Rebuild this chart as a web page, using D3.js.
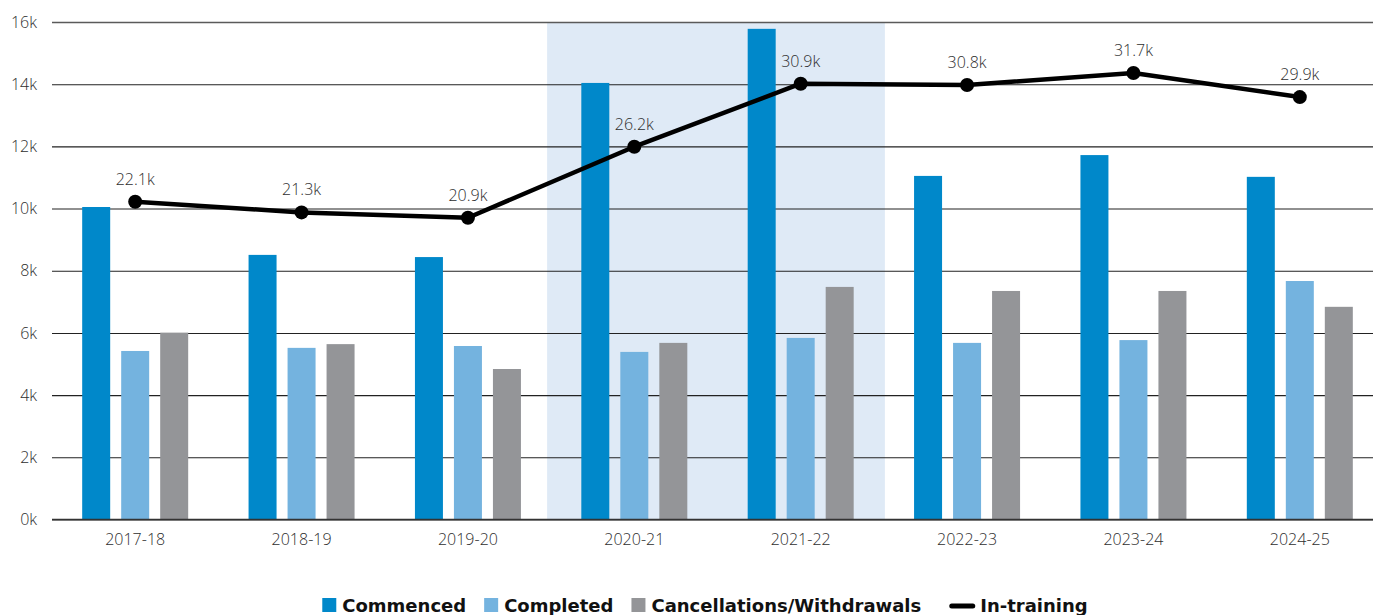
<!DOCTYPE html>
<html>
<head>
<meta charset="utf-8">
<script src="https://cdn.jsdelivr.net/npm/d3@7"></script>
<style>
  html, body { margin: 0; padding: 0; background: #fff; }
  svg { display: block; }
</style>
</head>
<body>
<svg id="chart" width="1373" height="615"></svg>
<script>
// Financial years shown along the x axis
const years = ["2017-18", "2018-19", "2019-20", "2020-21", "2021-22", "2022-23", "2023-24", "2024-25"];

// Bar series, in thousands
const commenced     = [10.05, 8.51, 8.44, 14.04, 15.78, 11.05, 11.72, 11.02];
const completed     = [5.42, 5.52, 5.58, 5.39, 5.84, 5.68, 5.77, 7.67];
const cancellations = [6.01, 5.64, 4.84, 5.68, 7.48, 7.35, 7.35, 6.84];

// Line series (in-training), in thousands, drawn against its own hidden scale
const inTraining = [22.1, 21.3, 20.9, 26.2, 30.9, 30.8, 31.7, 29.9];

// Left axis ticks, in thousands
const yTicks = [0, 2, 4, 6, 8, 10, 12, 14, 16];

// Years highlighted with a shaded background
const highlighted = ["2020-21", "2021-22"];

const seriesNames = ["Commenced", "Completed", "Cancellations/Withdrawals"];
const seriesValues = [commenced, completed, cancellations];
const colors = ["#0088ca", "#74b3df", "#949598"];

const svg = d3.select("#chart");
const plotLeft = 52, plotTop = 22, plotBottom = 519.5, bandEnd = 1383, gridEnd = 1373;

const x = d3.scaleBand().domain(years).range([plotLeft, bandEnd]).padding(0);
const inner = d3.scaleBand().domain(seriesNames).range([0, 106]).paddingInner(11 / 39);
const y = d3.scaleLinear().domain([0, 16]).range([plotBottom, plotTop]);
const yLine = d3.scaleLinear().domain([-1.6, 35.5]).range([plotBottom, plotTop]);

const cx = d => x(d) + x.bandwidth() / 2;
const textFont = "'Open Sans', sans-serif";
const textWeight = 300;
const textColor = "#2e2e2e";

// Shaded highlight band
const h0 = x(highlighted[0]) - 4;
const h1 = x(highlighted[highlighted.length - 1]) + x.bandwidth() + 1;
svg.append("rect")
  .attr("x", h0).attr("y", y(16))
  .attr("width", h1 - h0).attr("height", y(0) - y(16))
  .attr("fill", "#dfeaf6");

// Gridlines and left axis labels
const yAxis = d3.axisLeft(y).tickValues(yTicks).tickSize(0).tickPadding(15)
  .tickFormat(d => `${d}k`);
const gy = svg.append("g").attr("transform", `translate(${plotLeft},0)`).call(yAxis);
gy.select(".domain").remove();
gy.selectAll("text")
  .attr("font-family", textFont).attr("font-weight", textWeight)
  .attr("font-size", 16).attr("fill", textColor);
gy.selectAll(".tick").append("line")
  .attr("x1", 0).attr("x2", gridEnd - plotLeft)
  .attr("stroke", d => d === 16 ? "#5a5a5a" : "#222")
  .attr("stroke-width", d => d === 16 ? 1.6 : 1.1);

// Grouped bars
const groups = svg.append("g").selectAll("g")
  .data(years).join("g")
  .attr("transform", d => `translate(${cx(d) - 53},0)`);

groups.selectAll("rect")
  .data((d, i) => seriesNames.map((s, k) => ({ s, k, v: seriesValues[k][i] })))
  .join("rect")
  .attr("x", d => inner(d.s))
  .attr("y", d => y(d.v))
  .attr("width", inner.bandwidth())
  .attr("height", d => y(0) - y(d.v))
  .attr("fill", d => colors[d.k]);

// Baseline drawn over the bars
svg.append("line")
  .attr("x1", plotLeft).attr("x2", gridEnd)
  .attr("y1", y(0)).attr("y2", y(0))
  .attr("stroke", "#333").attr("stroke-width", 1.4);

// X axis labels
const xAxis = d3.axisBottom(x).tickSize(0).tickPadding(14);
const gx = svg.append("g").attr("transform", `translate(0,${y(0)})`).call(xAxis);
gx.select(".domain").remove();
gx.selectAll("text")
  .attr("font-family", textFont).attr("font-weight", textWeight)
  .attr("font-size", 16).attr("fill", textColor);

// In-training line with markers and value labels
const line = d3.line().x((d, i) => cx(years[i])).y(d => yLine(d));
svg.append("path")
  .datum(inTraining)
  .attr("d", line)
  .attr("fill", "none")
  .attr("stroke", "#000")
  .attr("stroke-width", 4.5)
  .attr("stroke-linejoin", "round");

svg.append("g").selectAll("circle")
  .data(inTraining).join("circle")
  .attr("cx", (d, i) => cx(years[i]))
  .attr("cy", d => yLine(d))
  .attr("r", 7)
  .attr("fill", "#000");

svg.append("g").selectAll("text")
  .data(inTraining).join("text")
  .attr("x", (d, i) => cx(years[i]))
  .attr("y", d => yLine(d) - 17)
  .attr("text-anchor", "middle")
  .attr("font-family", textFont).attr("font-weight", textWeight)
  .attr("font-size", 16).attr("fill", textColor)
  .text(d => `${d3.format(".1f")(d)}k`);

// Legend
const legendItems = seriesNames.map((s, k) => ({ name: s, color: colors[k], type: "box" }))
  .concat([{ name: "In-training", color: "#000", type: "line" }]);
const legend = svg.append("g").attr("transform", "translate(0,612)");
const legendFont = "'DejaVu Sans', sans-serif";
let lx = 0;
legendItems.forEach((it, i) => {
  const g = legend.append("g");
  if (i > 0) lx += it.type === "line" ? 28 : 18;
  if (it.type === "box") {
    g.append("rect").attr("x", lx).attr("y", -14).attr("width", 14).attr("height", 14).attr("fill", it.color);
    lx += 20;
  } else {
    g.append("line").attr("x1", lx + 2.5).attr("x2", lx + 23.5).attr("y1", -6).attr("y2", -6)
      .attr("stroke", it.color).attr("stroke-width", 5).attr("stroke-linecap", "round");
    lx += 31;
  }
  const t = g.append("text").attr("x", lx).attr("y", 0)
    .attr("font-family", legendFont).attr("font-weight", "bold").attr("font-size", 18)
    .attr("fill", "#111").text(it.name);
  lx += t.node().getComputedTextLength();
});
legend.attr("transform", `translate(${705 - lx / 2},612)`);
</script>
</body>
</html>
